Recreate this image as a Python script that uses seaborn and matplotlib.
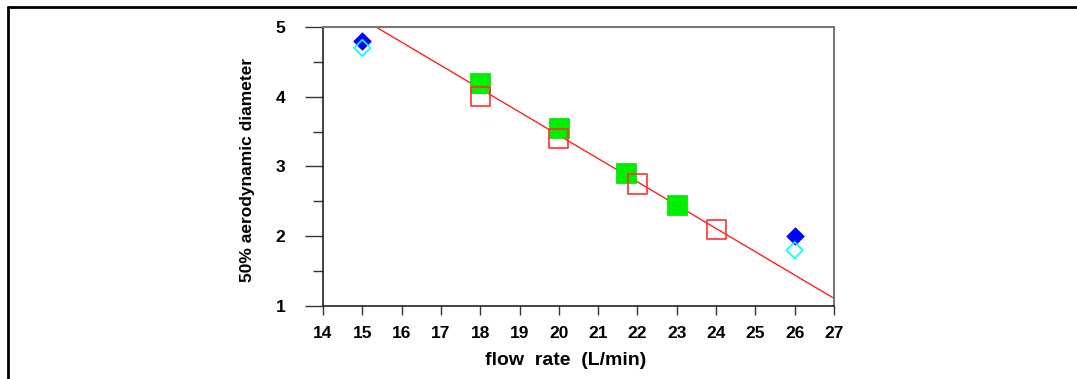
import matplotlib
matplotlib.use("Agg")
import matplotlib.pyplot as plt
import seaborn as sns
from matplotlib.lines import Line2D
from matplotlib.ticker import MultipleLocator

# Values
green_x = [18, 20, 21.7, 23]
green_y = [4.2, 3.55, 2.9, 2.45]

red_x = [18, 20, 22, 24]
red_y = [4.0, 3.4, 2.75, 2.1]

blue_x = [15, 26]
blue_y = [4.8, 2.0]

cyan_x = [15, 26]
cyan_y = [4.7, 1.8]

# fitted line end points
fit_x = [14, 27]
fit_y = [5.45, 1.11]

x_ticks = list(range(14, 28))
y_ticks = [1, 2, 3, 4, 5]

sns.set_style("ticks")
plt.rcParams['font.family'] = ['Liberation Sans', 'DejaVu Sans']
plt.rcParams['font.weight'] = 'bold'
plt.rcParams['text.color'] = 'black'
plt.rcParams['xtick.color'] = '#333333'
plt.rcParams['ytick.color'] = '#333333'
plt.rcParams['xtick.labelcolor'] = 'black'
plt.rcParams['ytick.labelcolor'] = 'black'
plt.rcParams['axes.labelcolor'] = 'black'

fig = plt.figure(figsize=(10.77, 3.79), dpi=100)
ax = fig.add_axes([323 / 1077, 1 - 306 / 379, (834 - 323) / 1077, (306 - 27) / 379])

sns.lineplot(x=fit_x, y=fit_y, ax=ax, color='#ff2020', linewidth=1.0)

sns.scatterplot(x=green_x, y=green_y, ax=ax, marker='s', s=210,
                color='#00ee00', edgecolor='#00dd00', linewidth=0.5, zorder=3)
sns.scatterplot(x=red_x, y=red_y, ax=ax, marker='s', s=190,
                facecolor='none', edgecolor='#ff3030', linewidth=1.2, zorder=4)
sns.scatterplot(x=blue_x, y=blue_y, ax=ax, marker='D', s=80,
                color='#0000ff', edgecolor='#0000ff', linewidth=0.5, zorder=3)
sns.scatterplot(x=cyan_x, y=cyan_y, ax=ax, marker='D', s=70,
                facecolor='none', edgecolor='#00ffff', linewidth=1.2, zorder=4)

ax.set_xlim(14, 27)
ax.set_ylim(1, 5)
ax.set_xticks(x_ticks)
ax.set_yticks(y_ticks)
ax.yaxis.set_minor_locator(MultipleLocator(0.5))

ax.tick_params(axis='y', which='major', direction='out', length=13, width=1,
               pad=14, labelsize=12.5)
ax.tick_params(axis='y', which='minor', direction='out', length=7, width=1)
ax.tick_params(axis='x', which='major', direction='out', length=6.5, width=1,
               pad=8, labelsize=12.5)

for side in ['top', 'right']:
    ax.spines[side].set_visible(True)
    ax.spines[side].set_color('#777777')
    ax.spines[side].set_linewidth(1.5)
for side in ['left', 'bottom']:
    ax.spines[side].set_color('#222222')
    ax.spines[side].set_linewidth(1.2)

ax.set_xlabel('flow  rate  (L/min)', fontsize=14, fontweight='bold')
ax.set_ylabel('50% aerodynamic diameter', fontsize=12.5, fontweight='bold')
ax.xaxis.set_label_coords(0.474, -0.165)
ax.yaxis.set_label_coords(-0.133, 0.487)

# outer frame (top and left edges)
fig.add_artist(Line2D([8 / 1077, 1], [1 - 6.5 / 379, 1 - 6.5 / 379],
                      transform=fig.transFigure, color='black', linewidth=2))
fig.add_artist(Line2D([8 / 1077, 8 / 1077], [0, 1 - 6.5 / 379],
                      transform=fig.transFigure, color='black', linewidth=2))

fig.savefig('out.png', dpi=100)
